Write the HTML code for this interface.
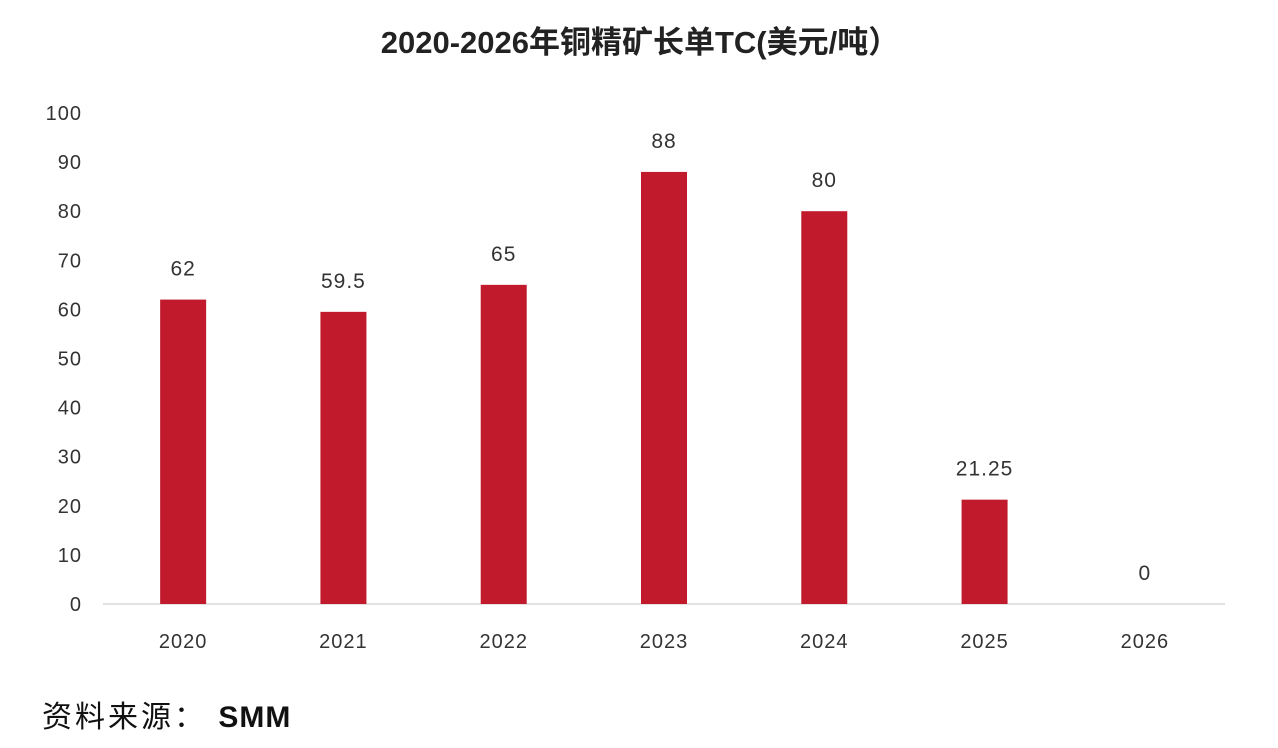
<!DOCTYPE html>
<html><head><meta charset="utf-8">
<style>
body{margin:0;background:#fff;}
svg{display:block;}
text{font-family:"Liberation Sans","Noto Sans CJK SC",sans-serif;fill:#333;}
</style></head>
<body>
<svg id="chart" width="1278" height="748" viewBox="0 0 1278 748">
<text x="640" y="53" text-anchor="middle" font-size="31" font-weight="bold" style="fill:#222">2020-2026年铜精矿长单TC(美元/吨）</text>
<g id="yaxis"></g>
<g id="xaxis"></g>
<g id="bars"></g>
<text x="42" y="727" font-size="30" letter-spacing="3" style="fill:#111">资料来源： <tspan font-weight="bold" letter-spacing="1">SMM</tspan></text>
</svg>
<script>
const categories=["2020","2021","2022","2023","2024","2025","2026"];
const values=[62,59.5,65,88,80,21.25,0];
const valueLabels=["62","59.5","65","88","80","21.25","0"];
const yTicks=[0,10,20,30,40,50,60,70,80,90,100];
const ns="http://www.w3.org/2000/svg";
const x0=103,x1=1225,yBase=604,yTop=113,yMax=100;
const band=(x1-x0)/categories.length,barW=46;
const y=v=>yBase-(v/yMax)*(yBase-yTop);
const xc=i=>x0+band*(i+0.5);
function mk(tag,attrs,parent){const e=document.createElementNS(ns,tag);for(const k in attrs)e.setAttribute(k,attrs[k]);parent.appendChild(e);return e;}
const ya=document.getElementById('yaxis'),xa=document.getElementById('xaxis'),bg=document.getElementById('bars');
yTicks.forEach(t=>{
  const tx=mk('text',{x:82,y:y(t)+7,'text-anchor':'end','font-size':20,'letter-spacing':1},ya);
  
  
  tx.textContent=t;
});
const ax=mk('line',{x1:x0,x2:x1,y1:yBase,y2:yBase,stroke:'#d9d9d9','stroke-width':1.5},xa);


categories.forEach((c,i)=>{
  const tx=mk('text',{x:xc(i),y:648,'text-anchor':'middle','font-size':20,'letter-spacing':1},xa);
  
  
  tx.textContent=c;
  const v=values[i];
  const r=mk('rect',{x:xc(i)-barW/2,y:y(v),width:barW,height:yBase-y(v),fill:'#c01a2c'},bg);
  
  
  const lb=mk('text',{x:xc(i),y:y(v)-24,'text-anchor':'middle','font-size':21,'letter-spacing':1},bg);
  
  
  lb.textContent=valueLabels[i];
});
</script>
</body></html>
